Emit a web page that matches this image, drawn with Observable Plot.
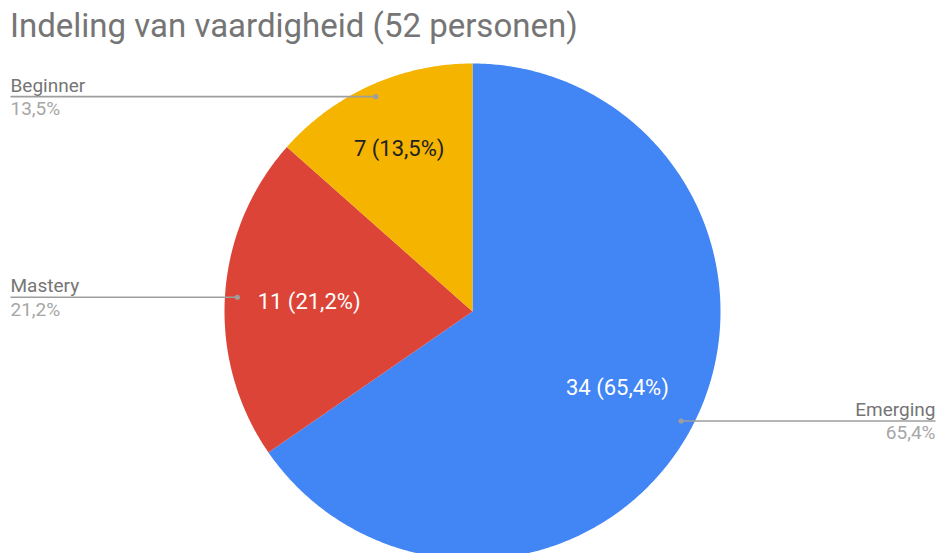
<!DOCTYPE html>
<html>
<head>
<meta charset="utf-8">
<script src="https://cdn.jsdelivr.net/npm/d3@7"></script>
<script src="https://cdn.jsdelivr.net/npm/@observablehq/plot@0.6"></script>
<style>
  html, body { margin: 0; padding: 0; background: #fff; }
  body { width: 938px; height: 553px; overflow: hidden; font-family: Roboto, "Noto Sans", sans-serif; }
  #title { height: 55px; box-sizing: border-box; padding: 6px 0 0 10px; font-size: 33px; color: #757575; line-height: 40px; white-space: nowrap; }
  svg { display: block; overflow: hidden; }
</style>
</head>
<body>
<div id="title">Indeling van vaardigheid (52 personen)</div>
<div id="chart"></div>
<script>
// ---- data ----
const categories = ["Emerging", "Mastery", "Beginner"];
const counts = [34, 11, 7];
const total = 52;
// ---- style constants ----
const palette = ["#4285F4", "#DB4437", "#F4B400"];
const insideTextColors = ["#ffffff", "#ffffff", "#212121"];

const W = 938, H = 498, R = 248, CX = 472, CY = 256;
const fmtPct = v => (v / total * 100).toFixed(1).replace(".", ",") + "%";

// build slices (clockwise from 12 o'clock)
const pie = d3.pie().sort(null).value(d => d.count);
const rows = categories.map((c, i) => ({cat: c, count: counts[i], i}));
const arcs = pie(rows);

const polyPts = [];
const info = [];
arcs.forEach(a => {
  const cat = a.data.cat;
  polyPts.push({cat, x: 0, y: 0});
  const n = Math.max(4, Math.ceil((a.endAngle - a.startAngle) / (Math.PI / 360)));
  for (let k = 0; k <= n; k++) {
    const t = a.startAngle + (a.endAngle - a.startAngle) * k / n;
    polyPts.push({cat, x: Math.sin(t), y: Math.cos(t)});
  }
  polyPts.push({cat, x: 0, y: 0});
  const mid = (a.startAngle + a.endAngle) / 2;
  const share = a.data.count / total;
  const lr = share < 0.15 ? 0.72 : 0.66;
  info.push({
    cat, i: a.data.i, count: a.data.count, share,
    lx: lr * Math.sin(mid), ly: lr * Math.cos(mid),
    dx: 0.95 * Math.sin(mid), dy: 0.95 * Math.cos(mid),
    left: Math.sin(mid) < 0
  });
});

const xDom = [-CX / R, (W - CX) / R];
const yDom = [-(H - CY) / R, CY / R];
const edgeL = xDom[0] + 10 / R;
const edgeR = xDom[1] - 3 / R;
info.forEach(d => { d.ex = d.left ? edgeL : edgeR; });
const leftInfo = info.filter(d => d.left);
const rightInfo = info.filter(d => !d.left);

const nameStyle = {fontSize: 19, fill: "#757575", lineAnchor: "bottom", dy: -5};
const pctStyle = {fontSize: 19, fill: "#a6a6a6", lineAnchor: "top", dy: 5};

const chart = Plot.plot({
  width: W, height: H,
  margin: 0,
  x: {domain: xDom, range: [0, W], axis: null},
  y: {domain: yDom, range: [H, 0], axis: null},
  color: {domain: categories, range: palette},
  style: {fontFamily: "Roboto, 'Noto Sans', sans-serif", background: "white"},
  marks: [
    Plot.line(polyPts, {x: "x", y: "y", z: "cat", fill: "cat", stroke: "none", curve: "linear"}),
    // leader lines
    Plot.link(info, {x1: "dx", y1: "dy", x2: "ex", y2: "dy", stroke: "#9e9e9e", strokeWidth: 1.6}),
    Plot.dot(info, {x: "dx", y: "dy", r: 2.6, fill: "#9e9e9e", stroke: "none"}),
    // outside labels
    Plot.text(leftInfo, {x: "ex", y: "dy", text: "cat", textAnchor: "start", ...nameStyle}),
    Plot.text(rightInfo, {x: "ex", y: "dy", text: "cat", textAnchor: "end", ...nameStyle}),
    Plot.text(leftInfo, {x: "ex", y: "dy", text: d => fmtPct(d.count), textAnchor: "start", ...pctStyle}),
    Plot.text(rightInfo, {x: "ex", y: "dy", text: d => fmtPct(d.count), textAnchor: "end", ...pctStyle}),
    // inside labels
    Plot.text(info, {
      x: "lx", y: "ly",
      text: d => `${d.count} (${fmtPct(d.count)})`,
      fill: d => insideTextColors[d.i],
      fontSize: 22
    })
  ]
});
document.getElementById("chart").appendChild(chart);
</script>
</body>
</html>
